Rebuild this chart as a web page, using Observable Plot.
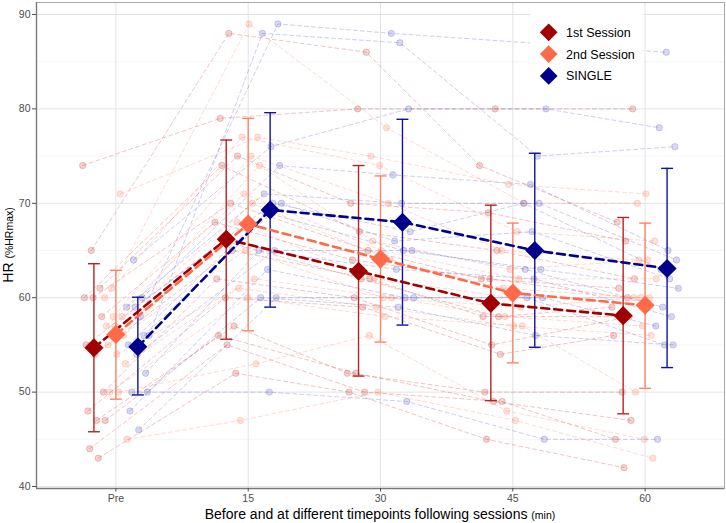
<!DOCTYPE html>
<html>
<head>
<meta charset="utf-8">
<script src="https://cdn.jsdelivr.net/npm/d3@7"></script>
<script src="https://cdn.jsdelivr.net/npm/@observablehq/plot@0.6"></script>
<style>
  html, body { margin: 0; padding: 0; background: #fff; }
  #chart { width: 726px; height: 523px; }
</style>
</head>
<body>
<div id="chart"></div>
<script>
// ---------- data ----------
const timepoints = ["Pre", "15", "30", "45", "60"];
const groups = ["1st Session", "2nd Session", "SINGLE"];

// group means (diamonds)
const meanFirst  = [54.7, 66.2, 62.8, 59.4, 58.1];
const meanSecond = [56.1, 67.8, 64.1, 60.5, 59.2];
const meanSingle = [54.8, 69.3, 68.0, 65.0, 63.1];

// error bar ends
const lowFirst   = [45.8, 55.6, 51.7, 49.1, 47.7];
const highFirst  = [63.6, 76.7, 74.0, 69.8, 68.5];
const lowSecond  = [49.25, 56.5, 55.3, 53.1, 50.4];
const highSecond = [62.9, 79.0, 72.9, 67.9, 67.9];
const lowSingle  = [49.7, 59.0, 57.1, 54.75, 52.6];
const highSingle = [60.05, 79.6, 78.9, 75.3, 73.7];

// individual participants: [Pre, 15, 30, 45, 60]
const subjectsFirst = [
  [74, 79, 80, 80, 80],
  [65, 88, 86, 74, 68],
  [61, 75, 70, 69, 66],
  [60, 74, 67, 65, 62],
  [60, 70, 65, 62, 61],
  [58, 68, 64, 62, 60],
  [55, 66, 62, 58, 59],
  [54, 65, 62, 58, 58],
  [50, 62, 60, 55, 58],
  [48, 60, 59, 54, 56],
  [47, 57, 52, 50, 50],
  [47, 56, 52, 49, 47],
  [44, 55, 50, 49, 45],
  [43, 52, 50, 45, 42]
];
const subjectsSecond = [
  [61, 89, 78, 70, 70],
  [71, 77, 75, 72, 71],
  [60, 77, 74, 67, 66],
  [58, 75, 70, 65, 64],
  [58, 74, 66, 63, 64],
  [57, 71, 65, 62, 62],
  [57, 70, 64, 61, 60],
  [56, 68, 62, 60, 60],
  [55, 65, 60, 59, 60],
  [54, 62, 60, 58, 57],
  [53, 61, 59, 57, 56],
  [50, 60, 58, 57, 50],
  [50, 53, 56, 48, 45],
  [45, 47, 50, 47, 43]
];
const subjectsSingle = [
  [58, 89, 88, null, 86],
  [56, 88, 87, 75, 76],
  [64, 76, 80, 80, 78],
  [60, 74, 73, 72, 65],
  [59, 71, 70, 70, 64],
  [59, 70, 67, 70, 63],
  [56, 70, 66, 67, 62],
  [55, 69, 65, 63, 61],
  [54, 65, 65, 63, 59],
  [52, 65, 63, 62, 58],
  [48, 63, 60, 60, 57],
  [46, 60, 60, 60, 55],
  [50, 60, 59, 56, 55],
  [50, 50, 49, 45, 45]
];

// ---------- styling ----------
const diamondColor = ["#a00000", "#ff6a4a", "#00008b"];
const barColor     = ["#b42424", "#ff8466", "#12129e"];
const indivColor   = ["#cc3030", "#ff7a5a", "#5050c8"];
const dodge = [-0.166, 0, 0.166];
const font = "'Liberation Sans', Arial, Helvetica, sans-serif";

const means = [meanFirst, meanSecond, meanSingle];
const lows = [lowFirst, lowSecond, lowSingle];
const highs = [highFirst, highSecond, highSingle];
const subjects = [subjectsFirst, subjectsSecond, subjectsSingle];

// deterministic horizontal jitter for individual points
const jit = (i, t, g) => (((i * 5 + t * 3 + g * 4) % 14) - 6.5) / 6.5 * 0.085;

const marks = [];
// grid
marks.push(Plot.gridY([45, 55, 65, 75, 85], {stroke: "#f0f0f0", strokeOpacity: 1, strokeWidth: 0.7}));
marks.push(Plot.gridY([40, 50, 60, 70, 80, 90], {stroke: "#e3e3e3", strokeOpacity: 1, strokeWidth: 1}));
marks.push(Plot.gridX([1, 2, 3, 4, 5], {stroke: "#e3e3e3", strokeOpacity: 1, strokeWidth: 1}));

// individual lines + points
groups.forEach((gname, g) => {
  const rows = [];
  subjects[g].forEach((row, i) => row.forEach((v, t) => {
    if (v != null) rows.push({key: g + "-" + i, x: t + 1 + dodge[g] + jit(i, t, g), y: v});
  }));
  marks.push(Plot.line(rows, {x: "x", y: "y", z: "key", stroke: indivColor[g], strokeOpacity: 0.32,
    strokeWidth: 0.9, strokeDasharray: "4,3"}));
  marks.push(Plot.dot(rows, {x: "x", y: "y", r: 3.2, fill: indivColor[g], fillOpacity: 0.22,
    stroke: indivColor[g], strokeOpacity: 0.3, strokeWidth: 0.8}));
});

// error bars
groups.forEach((gname, g) => {
  const rows = timepoints.map((tp, t) => ({x: t + 1 + dodge[g], lo: lows[g][t], hi: highs[g][t]}));
  marks.push(Plot.ruleX(rows, {x: "x", y1: "lo", y2: "hi", stroke: barColor[g], strokeWidth: 1.4}));
  marks.push(Plot.link(rows, {x1: d => d.x - 0.045, x2: d => d.x + 0.045, y1: "lo", y2: "lo", stroke: barColor[g], strokeWidth: 1.4}));
  marks.push(Plot.link(rows, {x1: d => d.x - 0.045, x2: d => d.x + 0.045, y1: "hi", y2: "hi", stroke: barColor[g], strokeWidth: 1.4}));
});

// mean lines + diamonds
groups.forEach((gname, g) => {
  const rows = timepoints.map((tp, t) => ({x: t + 1 + dodge[g], y: means[g][t]}));
  marks.push(Plot.line(rows, {x: "x", y: "y", stroke: diamondColor[g], strokeWidth: 2.6, strokeDasharray: "8,5"}));
});
groups.forEach((gname, g) => {
  const rows = timepoints.map((tp, t) => ({x: t + 1 + dodge[g], y: means[g][t]}));
  marks.push(Plot.dot(rows, {x: "x", y: "y", symbol: "diamond2", r: 8.6, fill: diamondColor[g], stroke: "none"}));
});

// frame, axis lines, axes
marks.push(Plot.frame({stroke: "#a8a8a8", strokeWidth: 1}));
marks.push(Plot.ruleX([0.4], {stroke: "#7a7a7a", strokeWidth: 1.4}));
marks.push(Plot.ruleY([39.79], {stroke: "#7a7a7a", strokeWidth: 1.4}));
marks.push(Plot.axisX([1, 2, 3, 4, 5], {tickFormat: v => timepoints[v - 1], tickSize: 3.5, tickPadding: 2.5,
  fontSize: 10.5, color: "#4d4d4d", label: null}));
marks.push(Plot.axisY([40, 50, 60, 70, 80, 90], {tickSize: 4, tickPadding: 2, fontSize: 10.5,
  color: "#4d4d4d", label: null}));

const chart = Plot.plot({
  width: 726,
  height: 523,
  marginLeft: 36,
  marginRight: 2,
  marginTop: 2,
  marginBottom: 35,
  style: {fontFamily: font, background: "white", overflow: "visible"},
  x: {domain: [0.4, 5.6]},
  y: {domain: [39.79, 91.27]},
  marks
});

const svg = d3.select(chart);

// axis titles with mixed font sizes
const xt = svg.append("text").attr("x", 380).attr("y", 519).attr("text-anchor", "middle")
  .style("font-family", font).style("font-size", "14px").attr("fill", "#000");
xt.append("tspan").text("Before and at different timepoints following sessions ");
xt.append("tspan").style("font-size", "10.5px").text("(min)");

const yt = svg.append("text").attr("transform", "translate(13,245) rotate(-90)").attr("text-anchor", "middle")
  .style("font-family", font).style("font-size", "14px").attr("fill", "#000");
yt.append("tspan").text("HR ");
yt.append("tspan").style("font-size", "10.5px").text("(%HRmax)");

// legend
const lg = svg.append("g").attr("text-anchor", "start");
lg.append("rect").attr("x", 530).attr("y", 10).attr("width", 113).attr("height", 88)
  .attr("fill", "#ffffff").attr("fill-opacity", 1).attr("stroke", "none");
groups.forEach((name, k) => {
  const cy = 32.3 + k * 21.8;
  lg.append("path").attr("d", d3.symbol(d3.symbolDiamond2, 200)())
    .attr("transform", `translate(548.7,${cy})`).attr("fill", diamondColor[k]);
  lg.append("text").attr("x", 566).attr("y", cy).attr("dy", "0.36em").attr("text-anchor", "start")
    .style("font-family", font).style("font-size", "12.5px").attr("fill", "#000").text(name);
});

document.getElementById("chart").appendChild(chart);
</script>
</body>
</html>
